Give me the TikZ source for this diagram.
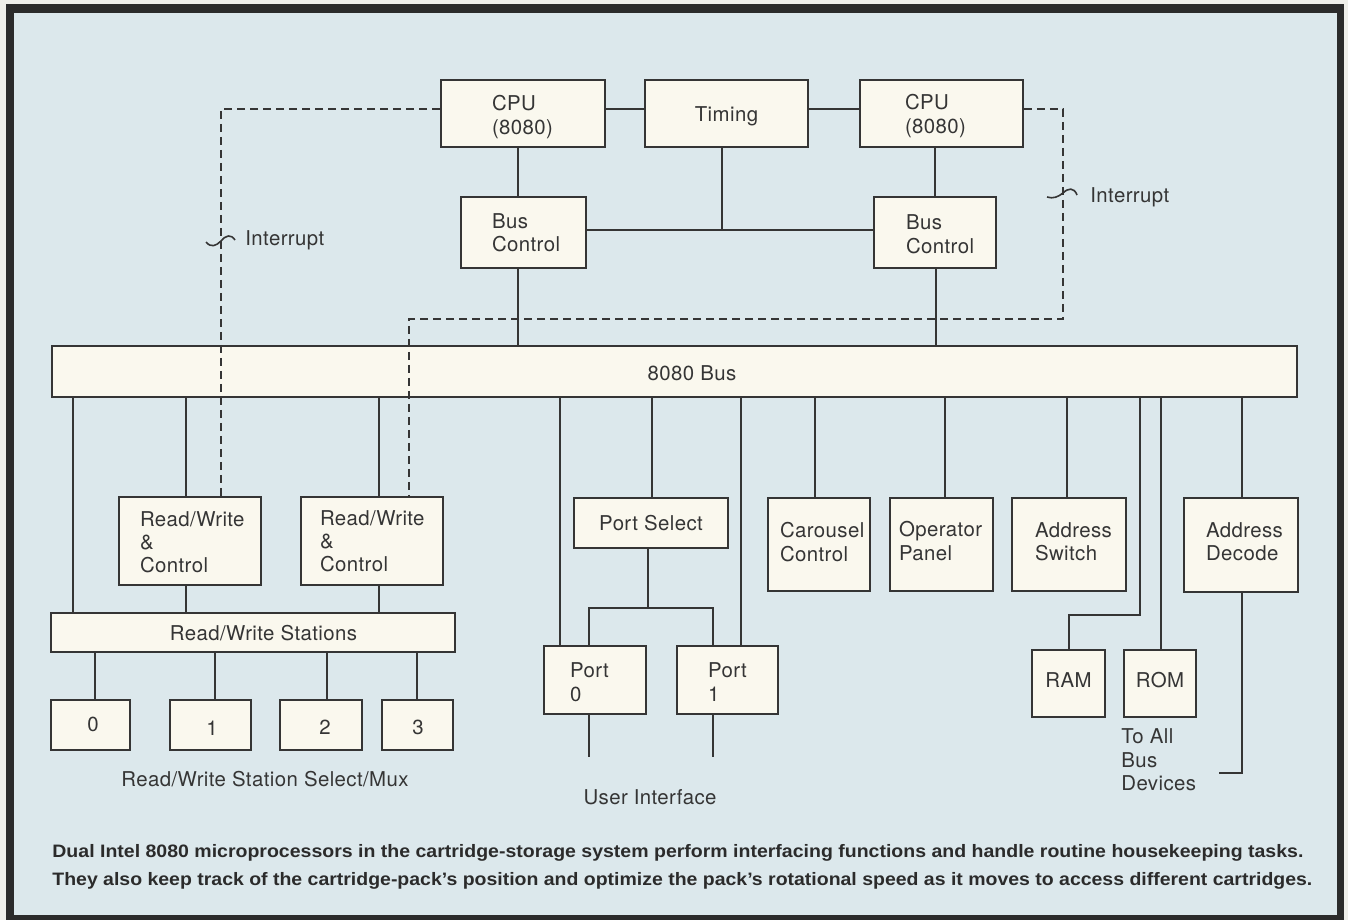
\documentclass[tikz,border=0pt]{standalone}
\usepackage{graphicx}
\usepackage{fontspec}
\setmainfont{TeX Gyre Heros}[LetterSpace=2]
\newfontfamily\capfont{Liberation Sans}
\definecolor{bg}{HTML}{DCE8EC}
\definecolor{boxfill}{HTML}{FAF8EE}
\definecolor{ink}{HTML}{353535}
\definecolor{framec}{HTML}{2B2B2B}
\definecolor{paper}{HTML}{EFEFEA}
\begin{document}
\begin{tikzpicture}[x=0.5pt,y=-0.5pt,
  box/.style={draw=ink, line width=0.9pt, fill=boxfill, inner sep=0pt, font=\fontsize{10.2}{11.75}\selectfont, text=ink},
  lbl/.style={inner sep=0pt, font=\fontsize{10.2}{11.75}\selectfont, text=ink},
  wire/.style={draw=ink, line width=0.9pt},
  irq/.style={draw=ink, line width=0.8pt, dash pattern=on 4pt off 2.5pt},
  capt/.style={inner sep=0pt, anchor=west, text=framec}]
\useasboundingbox (0,0) rectangle (1348,920);
\fill[paper] (0,0) rectangle (1348,920);
\fill[framec] (6,4) rectangle (1344,920);
\fill[bg] (14,13) rectangle (1337,915);

% ---------- boxes ----------
\node[box, minimum width=82pt, minimum height=33.5pt] (cpuL) at (523,113.5) {};
\node[box, minimum width=81.5pt, minimum height=33.5pt] (timing) at (726.5,113.5) {};
\node[box, minimum width=81.5pt, minimum height=33.5pt] (cpuR) at (941.5,113.5) {};
\node[box, minimum width=62.5pt, minimum height=35.5pt] (bcL) at (523.5,232.5) {};
\node[box, minimum width=61pt, minimum height=35.5pt] (bcR) at (935,232.5) {};
\node[box, minimum width=622.5pt, minimum height=25.5pt] (bus) at (674.5,371.5) {};
\node[box, minimum width=71pt, minimum height=44pt] (rw1) at (190,541) {};
\node[box, minimum width=71pt, minimum height=44pt] (rw2) at (372,541) {};
\node[box, minimum width=202pt, minimum height=19.5pt] (stations) at (253,632.5) {};
\node[box, minimum width=39.5pt, minimum height=25pt] (s0) at (90.5,725) {};
\node[box, minimum width=40.5pt, minimum height=25pt] (s1) at (210.5,725) {};
\node[box, minimum width=41pt, minimum height=25pt] (s2) at (321,725) {};
\node[box, minimum width=35.5pt, minimum height=25pt] (s3) at (417.5,725) {};
\node[box, minimum width=77pt, minimum height=25pt] (portsel) at (651,523) {};
\node[box, minimum width=51pt, minimum height=34pt] (port0) at (595,680) {};
\node[box, minimum width=50.5pt, minimum height=34pt] (port1) at (727.5,680) {};
\node[box, minimum width=51pt, minimum height=46.5pt] (carousel) at (819,544.5) {};
\node[box, minimum width=51.5pt, minimum height=46.5pt] (operator) at (941.5,544.5) {};
\node[box, minimum width=57pt, minimum height=46.5pt] (addrsw) at (1069,544.5) {};
\node[box, minimum width=57pt, minimum height=47pt] (addrdec) at (1241,545) {};
\node[box, minimum width=36.5pt, minimum height=33.5pt] (ram) at (1068.5,683.5) {};
\node[box, minimum width=36pt, minimum height=33.5pt] (rom) at (1160,683.5) {};

% ---------- box texts ----------
\node[lbl, text width=31pt, align=left, yshift=-1.75pt] (cpuLt) at (cpuL) {CPU\\(8080)};
\node[lbl, yshift=-1.5pt] (timingt) at (timing) {Timing};
\node[lbl, text width=36.5pt, align=left, yshift=-1.25pt] (cpuRt) at (cpuR) {CPU\\(8080)};
\node[lbl, text width=31.5pt, align=left] (bcLt) at (bcL) {Bus\\Control};
\node[lbl, text width=29pt, align=left, yshift=-0.75pt] (bcRt) at (bcR) {Bus\\Control};
\node[lbl] (buslbl) at (692,373) {8080 Bus};
\node[lbl, text width=50pt, align=left, font=\fontsize{10.2}{11.5}\selectfont, yshift=-0.5pt] (rw1t) at (rw1) {Read/Write\\\&\\Control};
\node[lbl, text width=52pt, align=left, font=\fontsize{10.2}{11.5}\selectfont] (rw2t) at (rw2) {Read/Write\\\&\\Control};
\node[lbl] (stlbl) at (263.5,633) {Read/Write Stations};
\node[lbl] (s0t) at (93,724) {0};
\node[lbl] (s1t) at (212,728) {1};
\node[lbl] (s2t) at (325,727) {2};
\node[lbl] (s3t) at (418,727) {3};
\node[lbl] (muxlbl) at (265,779) {Read/Write Station Select/Mux};
\node[lbl] (portselt) at (portsel) {Port Select};
\node[lbl, text width=25pt, align=left, yshift=-1pt] (port0t) at (port0) {Port\\0};
\node[lbl, text width=19.5pt, align=left, yshift=-1pt] (port1t) at (port1) {Port\\1};
\node[lbl] (uilbl) at (650,797) {User Interface};
\node[lbl, text width=39pt, align=left, yshift=1.25pt] (carouselt) at (carousel) {Carousel\\Control};
\node[lbl, text width=42.5pt, align=left, yshift=1.75pt] (operatort) at (operator) {Operator\\Panel};
\node[lbl, text width=34pt, align=left, yshift=1.5pt] (addrswt) at (addrsw) {Address\\Switch};
\node[lbl, text width=35pt, align=left, yshift=1.75pt] (addrdect) at (addrdec) {Address\\Decode};
\node[lbl, yshift=1.5pt] (ramt) at (ram) {RAM};
\node[lbl, yshift=1.5pt] (romt) at (rom) {ROM};
\node[lbl, anchor=west, align=left] (toall) at (1121,760) {To All\\Bus\\Devices};
\node[lbl, anchor=west] (irqL) at (245,240) {Interrupt};
\node[lbl, anchor=west] (irqR) at (1090,197) {Interrupt};

% ---------- helper coordinates ----------
\coordinate (ty) at (0,109);
\coordinate (hz) at (722,230);
\coordinate (x518) at (518,0);
\coordinate (x935) at (935,0);
\coordinate (x936) at (936,0);
\coordinate (x73) at (73,0);
\coordinate (x186) at (186,0);
\coordinate (x379) at (379,0);
\coordinate (x221) at (221,0);
\coordinate (x409) at (409,0);
\coordinate (x95) at (95,0);
\coordinate (x215) at (215,0);
\coordinate (x327) at (327,0);
\coordinate (x417) at (417,0);
\coordinate (x560) at (560,0);
\coordinate (x652) at (652,0);
\coordinate (x741) at (741,0);
\coordinate (x589) at (589,0);
\coordinate (x713) at (713,0);
\coordinate (psj) at (648,608);
\coordinate (ui0) at (589,757);
\coordinate (ui1) at (713,757);
\coordinate (x815) at (815,0);
\coordinate (x945) at (945,0);
\coordinate (x1067) at (1067,0);
\coordinate (rj) at (1140,615);
\coordinate (x1069) at (1069,0);
\coordinate (x1161) at (1161,0);
\coordinate (x1242) at (1242,0);
\coordinate (adj) at (1242,773);
\coordinate (adc) at (1219,773);
\coordinate (ir) at (1063,319);

% ---------- connectors ----------
\draw[wire] (cpuL.east |- ty) -- (timing.west |- ty);
\draw[wire] (timing.east |- ty) -- (cpuR.west |- ty);
\draw[wire] (cpuL.south -| x518) -- (bcL.north -| x518);
\draw[wire] (bcL.south -| x518) -- (bus.north -| x518);
\draw[wire] (cpuR.south -| x935) -- (bcR.north -| x935);
\draw[wire] (bcR.south -| x936) -- (bus.north -| x936);
\draw[wire] (timing.south -| hz) -- (hz);
\draw[wire] (bcL.east |- hz) -- (bcR.west |- hz);

\draw[wire] (bus.south -| x73) -- (stations.north -| x73);
\draw[wire] (bus.south -| x186) -- (rw1.north -| x186);
\draw[wire] (rw1.south -| x186) -- (stations.north -| x186);
\draw[wire] (bus.south -| x379) -- (rw2.north -| x379);
\draw[wire] (rw2.south -| x379) -- (stations.north -| x379);
\draw[wire] (stations.south -| x95) -- (s0.north -| x95);
\draw[wire] (stations.south -| x215) -- (s1.north -| x215);
\draw[wire] (stations.south -| x327) -- (s2.north -| x327);
\draw[wire] (stations.south -| x417) -- (s3.north -| x417);

\draw[wire] (bus.south -| x560) -- (port0.north -| x560);
\draw[wire] (bus.south -| x652) -- (portsel.north -| x652);
\draw[wire] (bus.south -| x741) -- (port1.north -| x741);
\draw[wire] (portsel.south -| psj) -- (psj);
\draw[wire] (port0.north -| x589) |- (psj) -| (port1.north -| x713);
\draw[wire] (port0.south -| ui0) -- (ui0);
\draw[wire] (port1.south -| ui1) -- (ui1);

\draw[wire] (bus.south -| x815) -- (carousel.north -| x815);
\draw[wire] (bus.south -| x945) -- (operator.north -| x945);
\draw[wire] (bus.south -| x1067) -- (addrsw.north -| x1067);
\draw[wire] (bus.south -| rj) -- (rj) -| (ram.north -| x1069);
\draw[wire] (bus.south -| x1161) -- (rom.north -| x1161);
\draw[wire] (bus.south -| x1242) -- (addrdec.north -| x1242);
\draw[wire] (addrdec.south -| adj) -- (adj) -- (adc);

% interrupt lines
\draw[irq] (cpuL.west |- ty) -| (rw1.north -| x221);
\draw[irq] (cpuR.east |- ty) -| (ir) -| (rw2.north -| x409);
\draw[draw=ink, line width=0.8pt] (206,242) .. controls (211,248) and (216,246) .. (221,241) .. controls (226,235) and (231,234) .. (235,240);
\draw[draw=ink, line width=0.8pt] (1047,197) .. controls (1053,199) and (1058,197) .. (1063,193) .. controls (1068,188) and (1074,187) .. (1077,195);

% caption
\node[capt] (cap1) at (52,853) {\resizebox{625.5pt}{\height}{\capfont\bfseries\fontsize{9}{11}\selectfont Dual Intel 8080 microprocessors in the cartridge-storage system perform interfacing functions and handle routine housekeeping tasks.}};
\node[capt] (cap2) at (52,881) {\resizebox{630pt}{\height}{\capfont\bfseries\fontsize{9}{11}\selectfont They also keep track of the cartridge-pack’s position and optimize the pack’s rotational speed as it moves to access different cartridges.}};
\end{tikzpicture}
\end{document}
